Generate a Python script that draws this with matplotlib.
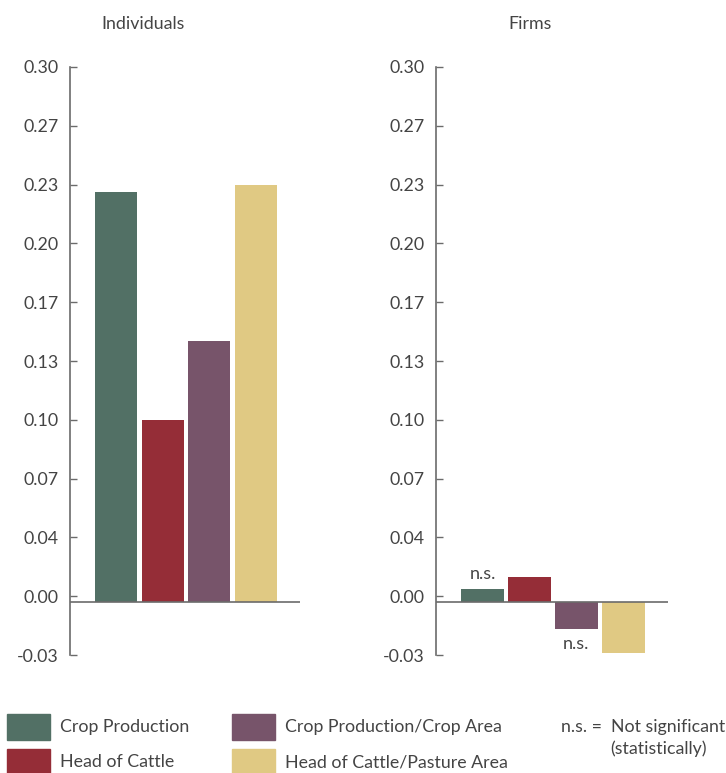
import matplotlib
matplotlib.use("Agg")
import matplotlib.pyplot as plt
from matplotlib.patches import Rectangle
import numpy as np

plt.rcParams['font.family'] = ['Lato', 'DejaVu Sans']

# data
categories = ["Crop Production", "Head of Cattle",
              "Crop Production/Crop Area", "Head of Cattle/Pasture Area"]
colors = ["#527065", "#952d37", "#77546a", "#e0c983"]
individuals = [0.230, 0.102, 0.146, 0.234]
firms = [0.007, 0.0137, -0.0153, -0.0287]
firms_ns = [True, False, True, False]
tick_labels = ["-0.03", "0.00", "0.04", "0.07", "0.10", "0.13",
               "0.17", "0.20", "0.23", "0.27", "0.30"]

W, H = 726, 773
fig = plt.figure(figsize=(W / 100, H / 100), dpi=100)
text_col = "#444444"
axis_col = "#6b6b6b"


def fig_box(x0, x1, y0, y1):
    return [x0 / W, 1 - y1 / H, (x1 - x0) / W, (y1 - y0) / H]


def style_ax(ax, values):
    x = np.arange(len(values))
    ax.bar(x, values, width=0.9, color=colors, zorder=2)
    ax.set_ylim(-0.03, 0.30)
    ax.set_xlim(-0.99, 3.95)
    ax.set_yticks(np.linspace(-0.03, 0.30, 11))
    ax.set_yticklabels(tick_labels)
    ax.set_xticks([])
    for s in ["top", "right", "bottom"]:
        ax.spines[s].set_visible(False)
    ax.spines["left"].set_color(axis_col)
    ax.spines["left"].set_linewidth(1.2)
    ax.axhline(0, color=axis_col, linewidth=1.2, zorder=3)
    ax.tick_params(axis="y", direction="in", length=5, width=1,
                   color=axis_col, labelsize=12.8, labelcolor=text_col, pad=8)
    return x


ax1 = fig.add_axes(fig_box(70, 300, 67, 655))
style_ax(ax1, individuals)

ax2 = fig.add_axes(fig_box(436, 668, 67, 655))
x2 = style_ax(ax2, firms)
for xi, v, ns in zip(x2, firms, firms_ns):
    if ns:
        if v >= 0:
            ax2.text(xi, v + 0.004, "n.s.", ha="center", va="bottom",
                     fontsize=13, color=text_col)
        else:
            ax2.text(xi, v - 0.004, "n.s.", ha="center", va="top",
                     fontsize=13, color=text_col)

fig.text(143 / W, 1 - 24 / H, "Individuals", ha="center", va="center",
         fontsize=12.8, color=text_col)
fig.text(530 / W, 1 - 24 / H, "Firms", ha="center", va="center",
         fontsize=12.8, color=text_col)

# legend drawn in pixel space
lg = fig.add_axes([0, 0, 1, 1], zorder=-1)
lg.set_xlim(0, W)
lg.set_ylim(H, 0)
lg.axis("off")
leg_pos = [(7, 727), (7, 762), (232, 727), (232, 762)]
for (px, py), c, lab in zip(leg_pos, colors, categories):
    lg.add_patch(Rectangle((px, py - 13), 43, 26, color=c))
    lg.text(px + 53, py, lab, ha="left", va="center", fontsize=12.8,
            color=text_col)
lg.text(561, 727, "n.s. =  Not significant", ha="left", va="center",
        fontsize=12.8, color=text_col)
lg.text(610, 749, "(statistically)", ha="left", va="center",
        fontsize=12.8, color=text_col)

fig.savefig("out.png", dpi=100)
